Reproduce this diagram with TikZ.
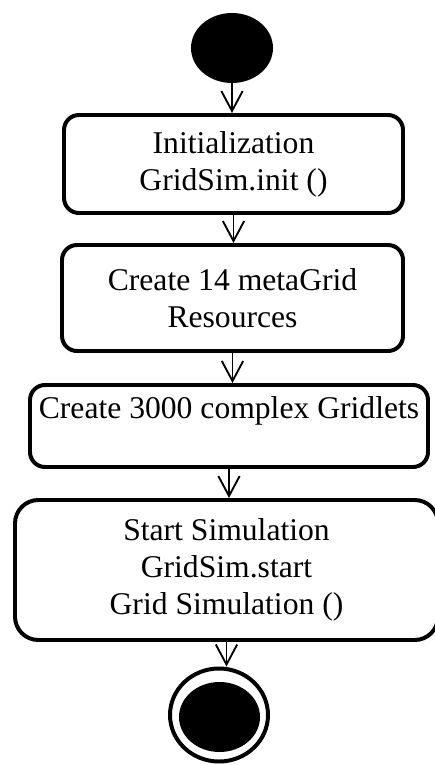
\documentclass[tikz,border=0pt]{standalone}
\usepackage{fontspec}
\setmainfont{Liberation Serif}
\usetikzlibrary{shapes.geometric}
\usetikzlibrary{arrows.meta}

\begin{document}
\begin{tikzpicture}[
		activity/.style={draw, line width=3.4pt, rounded corners=0.45cm, align=center, inner sep=0pt, font=\fontsize{27}{31.5}\selectfont},
		flow/.style={line width=1.6pt, -{Straight Barb[length=0.6cm, width=0.64cm]}}
	]
			\useasboundingbox (0,0) rectangle (13.05,-22.95);
			\node[ellipse, fill, inner sep=0pt, minimum width=2.46cm, minimum height=2.1cm] (start) at (6.96,-1.44) {};
			\node[activity, minimum width=10.17cm, minimum height=2.94cm] (init) at (7.005,-4.92) {Initialization\\GridSim.init ()};
			\node[activity, minimum width=10.23cm, minimum height=3.18cm] (resources) at (6.975,-8.94) {Create 14 metaGrid\\Resources};
			\node[activity, minimum width=11.94cm, minimum height=2.46cm] (gridlets) at (6.87,-12.78) {Create 3000 complex Gridlets\\\mbox{}};
			\node[activity, rounded corners=0.7cm, minimum width=12.69cm, minimum height=4.2cm] (simulation) at (6.795,-17.1) {Start Simulation\\GridSim.start\\Grid Simulation ()};
			\node[ellipse, draw, line width=3.4pt, inner sep=0pt, minimum width=2.94cm, minimum height=2.79cm] (stopring) at (6.57,-21.45) {};
			\node[ellipse, fill, inner sep=0pt, minimum width=2.43cm, minimum height=2.1cm] (stopdot) at (6.585,-21.51) {};
			\draw[flow] (start) -- (start |- init.north);
			\draw[flow] (init) -- (init |- resources.north);
			\draw[flow] (resources) -- (resources |- gridlets.north);
			\draw[flow] (gridlets) -- (gridlets |- simulation.north);
			\draw[flow] (simulation) -- (simulation |- stopring.north);
		\end{tikzpicture}
\end{document}
